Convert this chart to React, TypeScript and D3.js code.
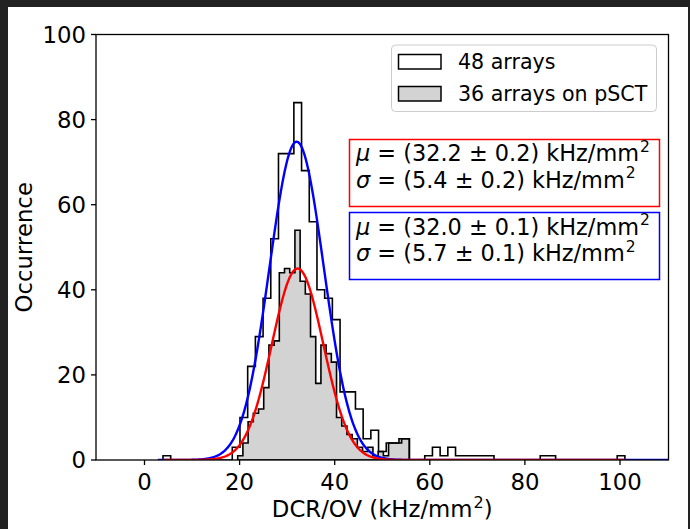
import React from 'react';
import * as d3 from 'd3';

// ---------- data ----------
const blackBinStart = 3.89;
const blackBinWidth = 1.619;
const blackCounts = [
  1, 0, 0, 0, 0, 0, 0, 0, 0, 3,
  10, 22, 29, 38, 52, 72, 72, 84, 68, 56,
  40, 38, 33, 16, 16, 12, 5, 7, 2, 4,
  4, 5, 0, 0, 1, 3, 1, 3, 1, 1,
  1, 1, 1, 0, 0, 0, 0, 0, 0, 1,
  1, 0, 0, 0, 0, 0, 0, 0, 0, 1,
];

const grayBinStart = 19.6;
const grayBinWidth = 1.094;
const grayCounts = [
  1, 4, 9, 11, 12, 17, 27, 28,
  44, 45, 44, 54, 42, 39, 29, 18, 27, 25, 23, 10,
  8, 6, 5, 3, 2, 3, 1, 2, 1, 4, 4, 5, 5,
];

const blueMu = 32.0;
const blueSigma = 5.7;
const blueAmp = 74.8;
const blueRange = [2.8, 110.2];

const redMu = 32.2;
const redSigma = 5.4;
const redAmp = 45;
const redRange = [3.89, 101.0];

const xTicks = [0, 20, 40, 60, 80, 100];
const yTicks = [0, 20, 40, 60, 80, 100];
const xDomain = [-10.2, 110.2];
const yDomain = [0, 100];

const legendLabels = ['48 arrays', '36 arrays on pSCT'];
const redLines = [
  ['\u03bc', ' = (32.2 \u00b1 0.2) kHz/mm'],
  ['\u03c3', ' = (5.4 \u00b1 0.2) kHz/mm'],
];
const blueLines = [
  ['\u03bc', ' = (32.0 \u00b1 0.1) kHz/mm'],
  ['\u03c3', ' = (5.7 \u00b1 0.1) kHz/mm'],
];

// ---------- layout ----------
const W = 690;
const H = 529;
const L = 96;
const R = 668.5;
const T = 34.5;
const B = 460;
const FONT = 'DejaVu Sans, sans-serif';

function stepPoints(start: number, width: number, counts: number[]): [number, number][] {
  const pts: [number, number][] = [[start, 0]];
  counts.forEach((c, i) => {
    pts.push([start + i * width, c]);
    pts.push([start + (i + 1) * width, c]);
  });
  pts.push([start + counts.length * width, 0]);
  return pts;
}

function gauss(amp: number, mu: number, sigma: number, range: number[]): [number, number][] {
  const n = 600;
  return d3.range(n + 1).map((i) => {
    const x = range[0] + ((range[1] - range[0]) * i) / n;
    return [x, amp * Math.exp(-((x - mu) ** 2) / (2 * sigma * sigma))] as [number, number];
  });
}

export default function App() {
  const x = d3.scaleLinear().domain(xDomain).range([L, R]);
  const y = d3.scaleLinear().domain(yDomain).range([B, T]);
  const line = d3
    .line<[number, number]>()
    .x((d) => x(d[0]))
    .y((d) => y(d[1]));

  const blackPath = line(stepPoints(blackBinStart, blackBinWidth, blackCounts)) || '';
  const grayPath = (line(stepPoints(grayBinStart, grayBinWidth, grayCounts)) || '') + 'Z';
  const bluePath = line(gauss(blueAmp, blueMu, blueSigma, blueRange)) || '';
  const redPath = line(gauss(redAmp, redMu, redSigma, redRange)) || '';

  const fs = 22.8;
  const legFs = 20.6;
  const annFs = 22.4;

  const annot = (lines: string[][], color: string, boxY: number, base0: number) => (
    <g>
      <rect x={349.5} y={boxY} width={310} height={67} fill="white" stroke={color} strokeWidth={1.5} />
      {lines.map((ln, i) => (
        <text key={i} x={356} y={base0 + i * 26.8} fontSize={annFs} fontFamily={FONT} fill="black">
          <tspan fontStyle="italic">{ln[0]}</tspan>
          <tspan>{ln[1]}</tspan>
          <tspan fontSize={15.5} dx={1} dy={-9.5}>2</tspan>
        </text>
      ))}
    </g>
  );

  return (
    <svg width={W} height={H} style={{ position: 'absolute', left: 0, top: 0 }}>
      <rect x={0} y={0} width={W} height={H} fill="#222222" />
      <rect x={8} y={7} width={680} height={H - 7} fill="white" />

      <defs>
        <clipPath id="plotclip">
          <rect x={L} y={T} width={R - L} height={B - T} />
        </clipPath>
      </defs>
      <g clipPath="url(#plotclip)">
        <path d={grayPath} fill="#d3d3d3" stroke="black" strokeWidth={1.6} strokeLinejoin="miter" />
        <path d={blackPath} fill="none" stroke="black" strokeWidth={1.6} strokeLinejoin="miter" />
        <path d={bluePath} fill="none" stroke="#0000ff" strokeWidth={2.4} />
        <path d={redPath} fill="none" stroke="#ff0000" strokeWidth={2.4} />
      </g>

      {/* axes frame */}
      <rect x={L} y={T} width={R - L} height={B - T} fill="none" stroke="black" strokeWidth={1.3} />

      {/* x ticks */}
      {xTicks.map((t) => (
        <g key={'x' + t}>
          <line x1={x(t)} x2={x(t)} y1={B} y2={B + 5} stroke="black" strokeWidth={1.3} />
          <text x={x(t)} y={490} textAnchor="middle" fontSize={fs} fontFamily={FONT}>
            {t}
          </text>
        </g>
      ))}
      {/* y ticks */}
      {yTicks.map((t) => (
        <g key={'y' + t}>
          <line x1={L - 5} x2={L} y1={y(t)} y2={y(t)} stroke="black" strokeWidth={1.3} />
          <text x={L - 10} y={y(t) + 8} textAnchor="end" fontSize={fs} fontFamily={FONT}>
            {t}
          </text>
        </g>
      ))}

      {/* axis labels */}
      <text x={(L + R) / 2} y={517} textAnchor="middle" fontSize={fs} fontFamily={FONT}>
        DCR/OV (kHz/mm<tspan fontSize={16} dx={1} dy={-9.5}>2</tspan>
        <tspan dy={9.5}>)</tspan>
      </text>
      <text
        transform={`translate(31.5, ${(T + B) / 2}) rotate(-90)`}
        textAnchor="middle"
        fontSize={fs}
        fontFamily={FONT}
      >
        Occurrence
      </text>

      {/* legend */}
      <rect x={391.5} y={45} width={265} height={66.5} rx={4} fill="white" fillOpacity={0.8} stroke="#cccccc" strokeWidth={1} />
      <rect x={398.5} y={54.5} width={42.5} height={14.5} fill="white" stroke="black" strokeWidth={1.5} />
      <rect x={398.5} y={86.5} width={42.5} height={14.5} fill="#d3d3d3" stroke="black" strokeWidth={1.5} />
      <text x={458} y={69} fontSize={legFs} fontFamily={FONT}>{legendLabels[0]}</text>
      <text x={458} y={101} fontSize={legFs} fontFamily={FONT}>{legendLabels[1]}</text>

      {annot(redLines, '#ff0000', 139.5, 161)}
      {annot(blueLines, '#0000ff', 212.5, 234.5)}
    </svg>
  );
}
